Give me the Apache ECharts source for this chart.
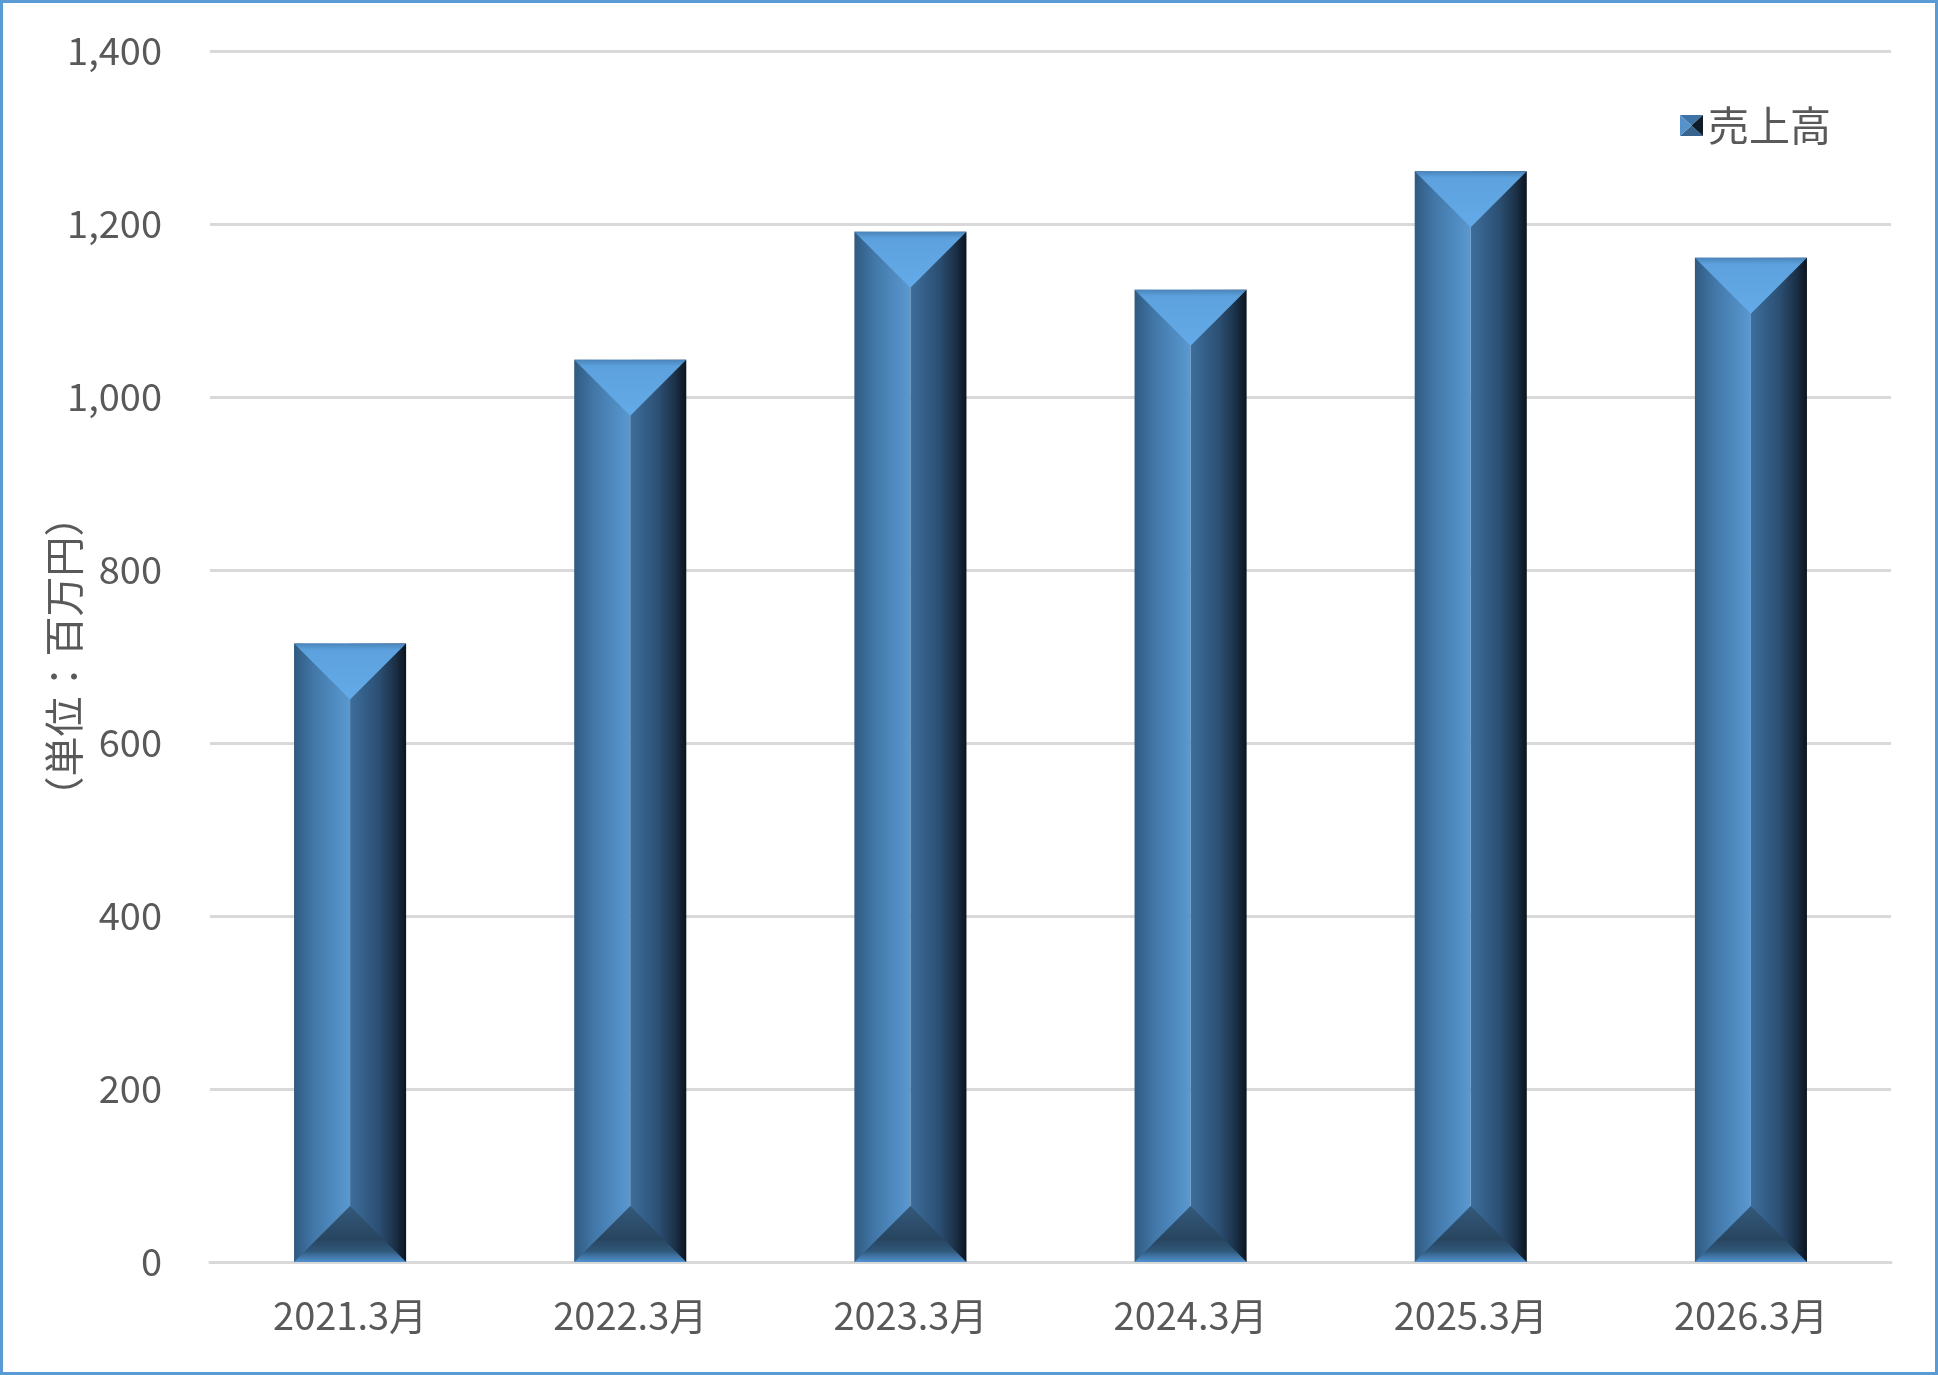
<!DOCTYPE html>
<html>
<head>
<meta charset="utf-8">
<script src="https://cdn.jsdelivr.net/npm/echarts@6/dist/echarts.min.js"></script>
<style>
html,body{margin:0;padding:0;background:#fff;}
#c{width:1938px;height:1375px;}
</style>
</head>
<body>
<div id="c"></div>
<script>
const categories = ['2021.3月','2022.3月','2023.3月','2024.3月','2025.3月','2026.3月'];
const salesValues = [715, 1043, 1191, 1124, 1261, 1161];
const seriesName = '売上高';
const yAxisName = '（単位：百万円）';
const yTicks = {min: 0, max: 1400, interval: 200};

const FONT = '"Noto Sans CJK JP", "Noto Sans", sans-serif';
const chart = echarts.init(document.getElementById('c'));

function lin(x0,y0,x1,y1,stops){
  return new echarts.graphic.LinearGradient(x0,y0,x1,y1,stops.map((c,i)=>({offset:c[0],color:c[1]})));
}

const iconSvg = '<svg xmlns="http://www.w3.org/2000/svg" width="23" height="21" viewBox="0 0 23 21">' +
  '<polygon points="0,0 23,0 11.5,10.5" fill="#3F73A6"/>' +
  '<polygon points="0,21 23,21 11.5,10.5" fill="#36648F"/>' +
  '<polygon points="0,0 11.5,10.5 0,21" fill="#5592CC"/>' +
  '<polygon points="23,0 11.5,10.5 23,21" fill="#0F1B28"/></svg>';
const iconUrl = 'image://data:image/svg+xml;charset=utf-8,' + encodeURIComponent(iconSvg);

const option = {
  animation: false,
  backgroundColor: '#ffffff',
  grid: {left: 210, right: 47, top: 51, bottom: 113, containLabel: false},
  legend: {
    left: 1675, top: 100,
    itemWidth: 23, itemHeight: 21, itemGap: 10,
    textStyle: {fontSize: 41, color: '#595959', fontFamily: FONT},
    data: [{name: seriesName, icon: iconUrl}]
  },
  xAxis: {
    type: 'category', data: categories,
    axisTick: {show: false},
    axisLine: {lineStyle: {color: '#D9D9D9', width: 3}},
    axisLabel: {color: '#595959', fontSize: 38, fontFamily: FONT, margin: 35}
  },
  yAxis: {
    type: 'value', min: yTicks.min, max: yTicks.max, interval: yTicks.interval,
    name: yAxisName, nameLocation: 'middle', nameRotate: 90, nameGap: 126,
    nameMoveOverlap: false,
    nameTextStyle: {fontSize: 40, color: '#595959', fontFamily: FONT},
    axisLine: {show: false}, axisTick: {show: false},
    axisLabel: {color: '#595959', fontSize: 38, fontFamily: FONT, margin: 48,
      formatter: v => v.toLocaleString('en-US')},
    splitLine: {lineStyle: {color: '#D9D9D9', width: 3}}
  },
  graphic: [{type: 'rect', silent: true, z: 100,
    shape: {x: 1.5, y: 1.5, width: 1935, height: 1372},
    style: {fill: 'none', stroke: '#5B9BD5', lineWidth: 3}}],
  series: [{
    name: seriesName, type: 'custom',
    data: salesValues.map((v,i)=>[i,v]),
    encode: {x: 0, y: 1},
    renderItem: function(params, api){
      const top = api.coord([api.value(0), api.value(1)]);
      const base = api.coord([api.value(0), 0]);
      const bw = api.size([1,0])[0]*0.4;
      const xc = top[0], xl = xc-bw/2, xr = xc+bw/2;
      const yt = top[1], yb = base[1], h = bw/2;
      return {type: 'group', children: [
        {type: 'rect', shape: {x: xl, y: yt, width: bw/2, height: yb-yt},
          style: {fill: lin(0,0,1,0,[[0,'#2F5A80'],[0.35,'#4277A8'],[1,'#5A99D1']])}},
        {type: 'rect', shape: {x: xc, y: yt, width: bw/2, height: yb-yt},
          style: {fill: lin(0,0,1,0,[[0,'#3E6E9C'],[0.5,'#2C5074'],[0.8,'#1C3148'],[1,'#0B141E']])}},
        {type: 'polygon', shape: {points: [[xl,yt],[xr,yt],[xc,yt+h]]},
          style: {fill: lin(0,0,0,1,[[0,'#4A84BA'],[0.12,'#5DA2DE'],[1,'#63AAE8']])}},
        {type: 'polygon', shape: {points: [[xl,yb],[xr,yb],[xc,yb-h]]},
          style: {fill: lin(0,0,0,1,[[0,'#33597A'],[0.6,'#284560'],[0.8,'#2F5779'],[1,'#5192D0']])}}
      ]};
    }
  }]
};
chart.setOption(option);
</script>
</body>
</html>
